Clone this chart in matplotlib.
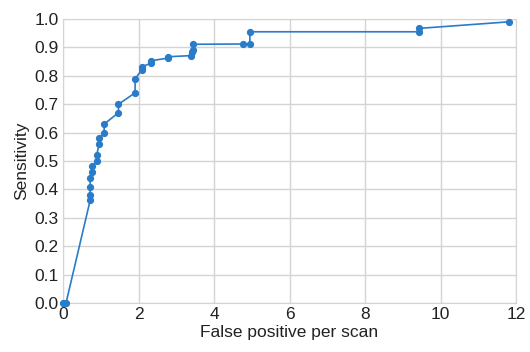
import matplotlib
matplotlib.use("Agg")
import matplotlib.pyplot as plt

# ROC-style curve: false positives per scan vs sensitivity
fp_per_scan = [0.0, 0.08, 0.72, 0.72, 0.72, 0.72, 0.78, 0.78, 0.89, 0.89,
               0.96, 0.96, 1.09, 1.09, 1.47, 1.47, 1.91, 1.91, 2.08, 2.08,
               2.33, 2.33, 2.77, 2.77, 3.39, 3.42, 3.45, 3.45, 4.78, 4.95,
               4.95, 9.44, 9.44, 11.81]
sensitivity = [0.0, 0.0, 0.362, 0.38, 0.409, 0.439, 0.461, 0.481, 0.499, 0.52,
               0.561, 0.58, 0.599, 0.63, 0.67, 0.70, 0.74, 0.789, 0.82, 0.832,
               0.844, 0.853, 0.862, 0.867, 0.871, 0.885, 0.89, 0.911, 0.912, 0.912,
               0.955, 0.955, 0.967, 0.99]

x_ticks = [0, 2, 4, 6, 8, 10, 12]
y_ticks = [0.0, 0.1, 0.2, 0.3, 0.4, 0.5, 0.6, 0.7, 0.8, 0.9, 1.0]

plt.rcParams['font.family'] = ['Liberation Sans', 'DejaVu Sans']

fig = plt.figure(figsize=(5.30, 3.52), dpi=100)
ax = fig.add_axes([63 / 530, 1 - 303 / 352, (516 - 63) / 530, (303 - 19) / 352])

ax.plot(fp_per_scan, sensitivity, color="#2a7bc8", lw=1.2, marker="o",
        markersize=4.2, clip_on=False, zorder=3)

ax.set_xlim(0, 12)
ax.set_ylim(0, 1.0)
ax.set_xticks(x_ticks)
ax.set_yticks(y_ticks)
ax.set_yticklabels([f"{v:.1f}" for v in y_ticks])
ax.grid(True, color="#d4d4d4", lw=1.0)
ax.set_axisbelow(True)
for s in ax.spines.values():
    s.set_color("#d4d4d4")
ax.tick_params(length=0, labelsize=12.5, colors="#222222", pad=3)

ax.set_xlabel("False positive per scan", fontsize=12.5, color="#222222", labelpad=2)
ax.set_ylabel("Sensitivity", fontsize=12.5, color="#222222", labelpad=4)

fig.savefig("out.png", dpi=100)
